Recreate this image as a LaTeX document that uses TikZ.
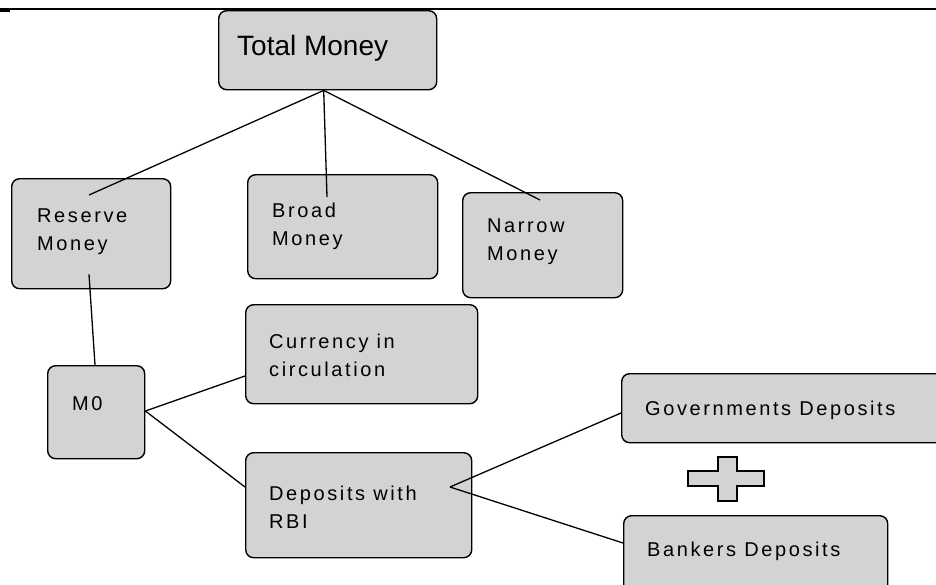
\documentclass[tikz,border=0pt]{standalone}
\usepackage{fontspec}
\setmainfont{Liberation Sans}
\newfontfamily\boxfont[LetterSpace=13]{Liberation Sans}
\definecolor{boxgray}{RGB}{211,211,211}
\begin{document}
\begin{tikzpicture}[x=1pt,y=-1pt,
  box/.style={draw=black, line width=1.4pt, fill=boxgray, rounded corners=8pt,
    inner sep=0pt, anchor=north west},
  txt/.style={anchor=west, inner sep=0pt, align=left,
    font=\boxfont\fontsize{20}{28}\selectfont},
  conn/.style={draw=black, line width=1.3pt}]
\useasboundingbox (0,0) rectangle (936,584);
\clip (0,0) rectangle (936,584);
% top rule
\draw[line width=2.8pt] (0,9) -- (936,9);
\draw[line width=2pt] (0,11) -- (10,11);
% boxes
\node[box, minimum width=218pt, minimum height=79pt]  (tm) at (218,10)  {};
\node[box, minimum width=159pt, minimum height=110pt] (rm) at (11,178)  {};
\node[box, minimum width=190pt, minimum height=104pt] (bm) at (247,174) {};
\node[box, minimum width=160pt, minimum height=105pt] (nm) at (462,192) {};
\node[box, minimum width=97pt,  minimum height=93pt]  (m0) at (47,365)  {};
\node[box, minimum width=232pt, minimum height=99pt]  (cc) at (245,304) {};
\node[box, minimum width=226pt, minimum height=105pt] (dp) at (245,452) {};
\node[box, minimum width=330pt, minimum height=69pt]  (gv) at (621,373) {};
\node[box, minimum width=264pt, minimum height=90pt]  (bk) at (623,515) {};
% plus sign
\draw[line width=1.4pt, fill=boxgray] (688,471) -- (718,471) -- (718,457) -- (737,457)
  -- (737,471) -- (764,471) -- (764,486) -- (737,486) -- (737,501) -- (718,501)
  -- (718,486) -- (688,486) -- cycle;
% texts
\node[txt, font=\fontsize{28}{32}\selectfont] (tmt) at (237,48) {Total Money};
\node[txt] (rmt) at (37,232) {Reserve\\Money};
\node[txt] (bmt) at (272,226) {Broad\\Money};
\node[txt] (nmt) at (487,242) {Narrow\\Money};
\node[txt] (m0t) at (72,404) {M0};
\node[txt] (cct) at (269,355) {Currency in\\circulation};
\node[txt] (dpt) at (269,507) {Deposits with\\RBI};
\node[txt] (gvt) at (645,410) {Governments Deposits};
\node[txt] (bkt) at (647,551) {Bankers Deposits};
% connector end points
\coordinate (tmb) at ([xshift=-4pt]tm.south);
\coordinate (rmin) at ([shift={(78pt,-17pt)}]rm.north west);
\coordinate (bmin) at ([shift={(80pt,-23pt)}]bm.north west);
\coordinate (nmin) at ([shift={(78pt,-8pt)}]nm.north west);
\coordinate (rmlow) at ([shift={(78pt,15pt)}]rm.south west);
\coordinate (m0top) at ([shift={(48pt,0pt)}]m0.north west);
\coordinate (m0r) at ([yshift=-46pt]m0.north east);
\coordinate (ccl) at ([yshift=-72pt]cc.north west);
\coordinate (dpl) at ([yshift=-35pt]dp.north west);
\coordinate (dpin) at ([shift={(205pt,-35pt)}]dp.north west);
\coordinate (gvl) at ([yshift=-40pt]gv.north west);
\coordinate (bkl) at ([yshift=-28pt]bk.north west);
% connectors
\draw[conn] (tmb) -- (rmin);
\draw[conn] (tmb) -- (bmin);
\draw[conn] (tmb) -- (nmin);
\draw[conn] (rmlow) -- (m0top);
\draw[conn] (m0r) -- (ccl);
\draw[conn] (m0r) -- (dpl);
\draw[conn] (dpin) -- (gvl);
\draw[conn] (dpin) -- (bkl);
\end{tikzpicture}
\end{document}
